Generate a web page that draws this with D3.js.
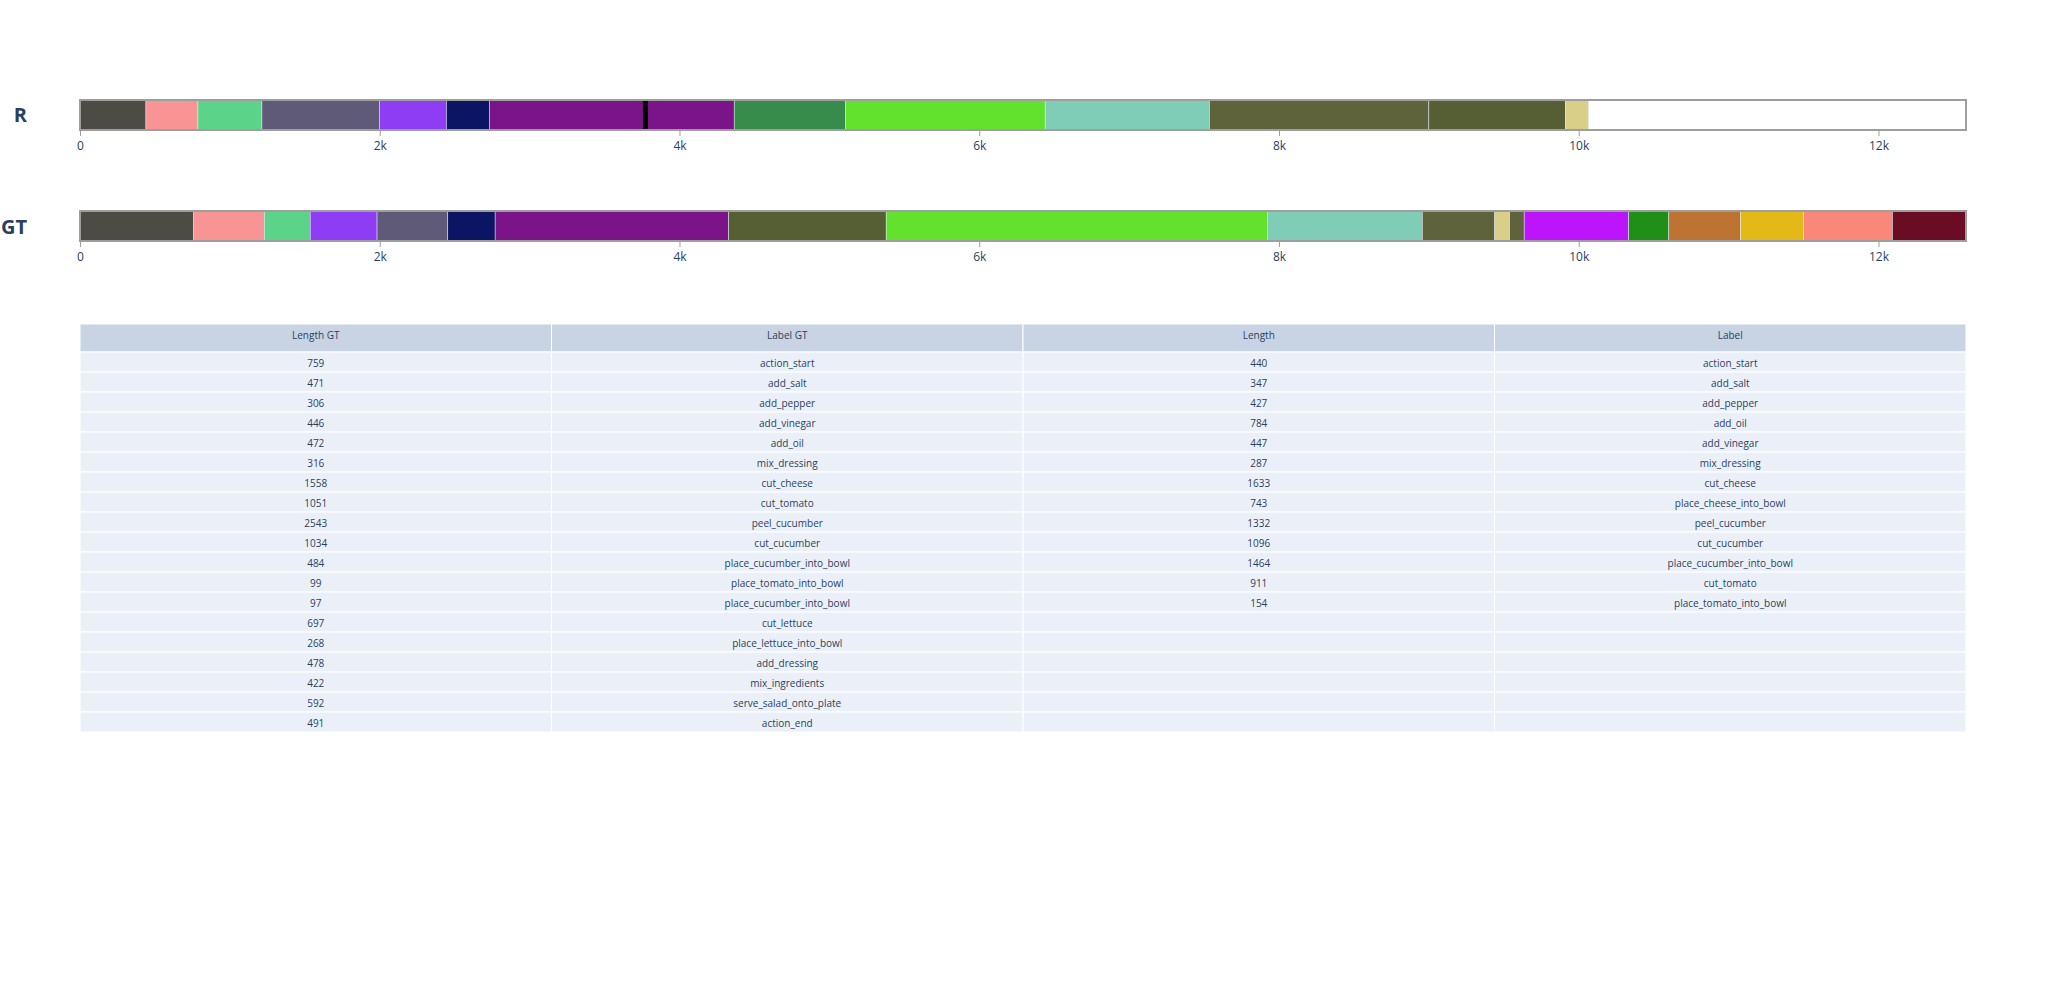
<!DOCTYPE html>
<html>
<head>
<meta charset="utf-8">
<script src="https://cdn.jsdelivr.net/npm/d3@7"></script>
<style>
  html, body { margin: 0; padding: 0; background: #fff; }
  svg { display: block; font-family: "Open Sans", "Noto Sans", sans-serif; }
</style>
</head>
<body>
<svg id="chart" width="2046" height="1000"></svg>
<script>
// ---------------- data ----------------
const gtLengths = [759, 471, 306, 446, 472, 316, 1558, 1051, 2543, 1034, 484, 99, 97, 697, 268, 478, 422, 592, 491];
const gtLabels = ["action_start", "add_salt", "add_pepper", "add_vinegar", "add_oil", "mix_dressing", "cut_cheese",
  "cut_tomato", "peel_cucumber", "cut_cucumber", "place_cucumber_into_bowl", "place_tomato_into_bowl",
  "place_cucumber_into_bowl", "cut_lettuce", "place_lettuce_into_bowl", "add_dressing", "mix_ingredients",
  "serve_salad_onto_plate", "action_end"];
const rLengths = [440, 347, 427, 784, 447, 287, 1633, 743, 1332, 1096, 1464, 911, 154];
const rLabels = ["action_start", "add_salt", "add_pepper", "add_oil", "add_vinegar", "mix_dressing", "cut_cheese",
  "place_cheese_into_bowl", "peel_cucumber", "cut_cucumber", "place_cucumber_into_bowl", "cut_tomato",
  "place_tomato_into_bowl"];
// thin black segment drawn inside the R sequence
const rMarkStart = [3756];
const rMarkLength = [33];

const colorLabels = ["action_start", "add_salt", "add_pepper", "add_vinegar", "add_oil", "mix_dressing", "cut_cheese",
  "place_cheese_into_bowl", "peel_cucumber", "cut_cucumber", "place_cucumber_into_bowl", "cut_tomato",
  "place_tomato_into_bowl", "cut_lettuce", "place_lettuce_into_bowl", "add_dressing", "mix_ingredients",
  "serve_salad_onto_plate", "action_end"];
const colorValues = ["#4c4c45", "#f99494", "#5bd48a", "#8f3cf5", "#5e5a78", "#0c1563", "#7b1488",
  "#378b4b", "#63e22d", "#7fccb7", "#5f633c", "#565e33",
  "#d9cf88", "#bc14fb", "#1f8f18", "#bd7331", "#e4b917",
  "#fa887a", "#690c24"];

const xTicks = [0, 2000, 4000, 6000, 8000, 10000, 12000];
const tableColumns = ["Length GT", "Label GT", "Length", "Label"];

// ---------------- layout ----------------
const svg = d3.select("#chart");
const color = d3.scaleOrdinal().domain(colorLabels).range(colorValues);
const x = d3.scaleLinear().domain([0, d3.sum(gtLengths)]).range([80, 1966]);
const textColor = "#2a3f5f";

function segments(lengths, labels) {
  let acc = 0;
  return lengths.map((len, i) => {
    const s = { start: acc, end: acc + len, label: labels[i] };
    acc += len;
    return s;
  });
}

function drawTrack(name, lengths, labels, top, bottom, marks, labelDy) {
  const y = d3.scaleBand().domain([name]).range([top, bottom]).padding(0);
  const g = svg.append("g");
  g.selectAll("rect.seg").data(segments(lengths, labels)).join("rect")
    .attr("class", "seg")
    .attr("x", d => x(d.start))
    .attr("width", d => x(d.end) - x(d.start))
    .attr("y", y(name))
    .attr("height", y.bandwidth())
    .attr("fill", d => color(d.label))
    .attr("stroke", "#E5ECF6")
    .attr("stroke-width", 0.5);
  if (marks) {
    g.selectAll("rect.mark").data(marks).join("rect")
      .attr("class", "mark")
      .attr("x", d => x(d.start))
      .attr("width", d => x(d.start + d.len) - x(d.start))
      .attr("y", y(name))
      .attr("height", y.bandwidth())
      .attr("fill", "#000");
  }
  // frame
  g.append("rect")
    .attr("x", x.range()[0]).attr("y", top)
    .attr("width", x.range()[1] - x.range()[0]).attr("height", bottom - top)
    .attr("fill", "none").attr("stroke", "#9e9e9e").attr("stroke-width", 2);
  // x axis
  const ax = g.append("g").attr("transform", `translate(0,${bottom + 1})`)
    .call(d3.axisBottom(x).tickValues(xTicks).tickFormat(d3.format("~s")).tickSize(5).tickSizeOuter(0).tickPadding(5));
  ax.select(".domain").remove();
  ax.selectAll(".tick line").attr("stroke", "#9e9e9e");
  ax.selectAll(".tick text").attr("fill", textColor).style("font-size", "12px")
    .style("font-family", "'Open Sans', sans-serif");
  // y label
  g.append("text")
    .attr("x", 27).attr("y", y(name) + y.bandwidth() / 2 + labelDy)
    .attr("text-anchor", "end").attr("dominant-baseline", "central")
    .attr("fill", textColor).style("font-size", "20px").style("font-weight", "bold")
    .text(name);
}

drawTrack("R", rLengths, rLabels, 100, 130, rMarkStart.map((s, i) => ({ start: s, len: rMarkLength[i] })), -0.5);
drawTrack("GT", gtLengths, gtLabels, 211, 241, null, 0.5);

// ---------------- table ----------------
const tx = d3.scaleBand().domain(tableColumns).range([80, 1966]);
const headerTop = 324, headerH = 28, rowH = 20;
const nRows = Math.max(gtLengths.length, rLengths.length);
const columnsData = [gtLengths, gtLabels, rLengths, rLabels];
const tbl = svg.append("g");

tbl.selectAll("rect.hdr").data(tableColumns).join("rect")
  .attr("class", "hdr")
  .attr("x", d => tx(d)).attr("y", headerTop)
  .attr("width", tx.bandwidth()).attr("height", headerH)
  .attr("fill", "#C8D4E3").attr("stroke", "#fff").attr("stroke-width", 1);
tbl.selectAll("text.hdr").data(tableColumns).join("text")
  .attr("class", "hdr")
  .attr("x", d => tx(d) + tx.bandwidth() / 2).attr("y", headerTop + 11)
  .attr("text-anchor", "middle").attr("dominant-baseline", "central")
  .attr("fill", textColor).style("font-size", "10px")
  .text(d => d);

const cells = [];
tableColumns.forEach((c, ci) => {
  for (let r = 0; r < nRows; r++) {
    const v = columnsData[ci][r];
    cells.push({ col: c, row: r, text: v === undefined ? "" : String(v) });
  }
});
const rowY = d3.scaleLinear().domain([0, 1]).range([headerTop + headerH, headerTop + headerH + rowH]);
tbl.selectAll("rect.cell").data(cells).join("rect")
  .attr("class", "cell")
  .attr("x", d => tx(d.col)).attr("y", d => rowY(d.row))
  .attr("width", tx.bandwidth()).attr("height", rowH)
  .attr("fill", "#EBF0F8").attr("stroke", "#fff").attr("stroke-width", 1);
tbl.selectAll("text.cell").data(cells.filter(d => d.text !== "")).join("text")
  .attr("class", "cell")
  .attr("x", d => tx(d.col) + tx.bandwidth() / 2).attr("y", d => rowY(d.row) + rowH / 2 + 0.5)
  .attr("text-anchor", "middle").attr("dominant-baseline", "central")
  .attr("fill", textColor).style("font-size", "10px")
  .text(d => d.text);
</script>
</body>
</html>
